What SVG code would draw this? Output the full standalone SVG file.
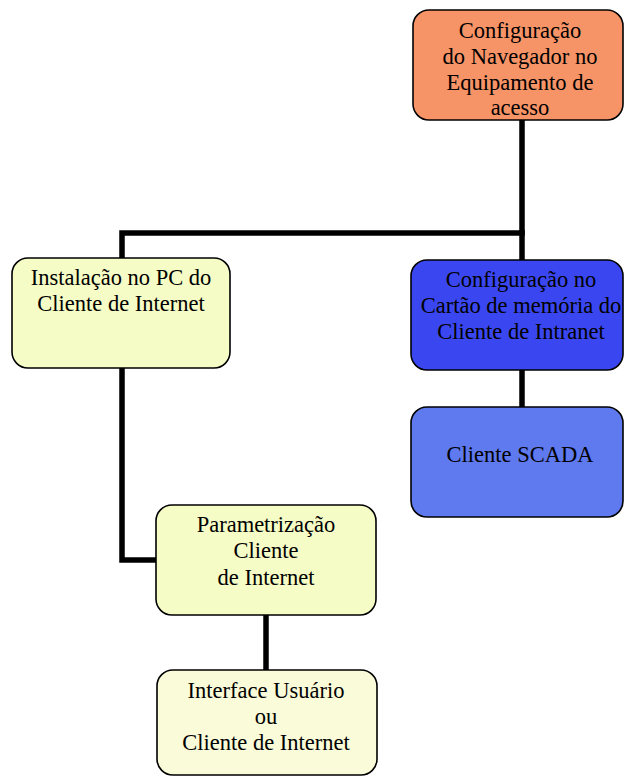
<svg xmlns="http://www.w3.org/2000/svg" width="624" height="777" viewBox="0 0 624 777">
<style>
.box{stroke:#000;stroke-width:1.6}
.t{font-family:"Liberation Serif","Times New Roman",serif;font-size:22.5px;fill:#000;text-anchor:middle}
.c{fill:none;stroke:#000;stroke-width:5.5;stroke-linejoin:miter}
</style>
<rect width="624" height="777" fill="#fff"/>
<g id="connectors">
<path class="c" d="M522 120 V233 H122 V258"/>
<path class="c" d="M522 230 V260"/>
<path class="c" d="M522 370 V407"/>
<path class="c" d="M122 368 V560 H156"/>
<path class="c" d="M266 615 V670"/>
</g>
<g id="n1">
<rect class="box" x="413" y="10" width="210" height="110" rx="16" fill="#F79467"/>
<text class="t" x="520" y="38">Configuração</text>
<text class="t" x="520" y="64">do Navegador no</text>
<text class="t" x="520" y="90">Equipamento de</text>
<text class="t" x="520" y="115">acesso</text>
</g>
<g id="n2">
<rect class="box" x="12" y="258" width="218" height="110" rx="16" fill="#F5FCC6"/>
<text class="t" x="121" y="285">Instalação no PC do</text>
<text class="t" x="121" y="311">Cliente de Internet</text>
</g>
<g id="n3">
<rect class="box" x="411" y="260" width="212" height="110" rx="16" fill="#3A47F1"/>
<text class="t" x="521" y="287">Configuração no</text>
<text class="t" x="521" y="313">Cartão de memória do</text>
<text class="t" x="521" y="339">Cliente de Intranet</text>
</g>
<g id="n4">
<rect class="box" x="411" y="407" width="212" height="110" rx="16" fill="#5F79EF"/>
<text class="t" x="520" y="462">Cliente SCADA</text>
</g>
<g id="n5">
<rect class="box" x="156" y="505" width="220" height="110" rx="16" fill="#F5FCC6"/>
<text class="t" x="266" y="532">Parametrização</text>
<text class="t" x="266" y="558">Cliente</text>
<text class="t" x="266" y="585">de Internet</text>
</g>
<g id="n6">
<rect class="box" x="157" y="670" width="220" height="105" rx="16" fill="#FAFBD8"/>
<text class="t" x="266" y="698">Interface Usuário</text>
<text class="t" x="266" y="724">ou</text>
<text class="t" x="266" y="750">Cliente de Internet</text>
</g>
</svg>
